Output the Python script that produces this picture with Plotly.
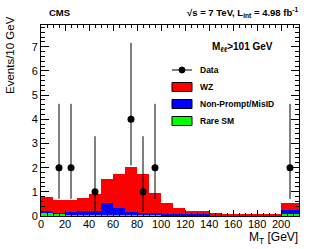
import plotly.graph_objects as go

# ---- data ----
bin_lo = [0, 10, 20, 30, 40, 50, 60, 70, 80, 90, 100, 110, 120, 130, 140, 150, 160, 170, 180, 190, 200]
bin_hi = [10, 20, 30, 40, 50, 60, 70, 80, 90, 100, 110, 120, 130, 140, 150, 160, 170, 180, 190, 200, 215]
rare_sm = [0.13, 0.09, 0.05, 0.05, 0.05, 0.05, 0.05, 0.05, 0.05, 0.05, 0.04, 0.04, 0.03, 0.03, 0.02, 0.02, 0.02, 0.02, 0.02, 0.02, 0.07]
nonprompt = [0.09, 0.05, 0.1, 0.14, 0.17, 0.5, 0.27, 0.1, 0.08, 0.07, 0.06, 0.05, 0.04, 0.04, 0.02, 0.02, 0.01, 0.01, 0.01, 0.01, 0.18]
wz = [0.56, 0.51, 0.52, 0.54, 0.68, 0.97, 1.41, 1.88, 1.59, 0.83, 0.42, 0.23, 0.14, 0.14, 0.07, 0.06, 0.04, 0.04, 0.03, 0.03, 0.30]

data_x = [15, 25, 45, 75, 85, 95, 207.5]
data_y = [2, 2, 1, 4, 1, 2, 2]
data_err_up = [2.64, 2.64, 2.30, 3.16, 2.30, 2.64, 2.64]
data_err_dn = [1.29, 1.29, 0.83, 1.91, 0.83, 1.29, 1.29]

x_ticks = [0, 20, 40, 60, 80, 100, 120, 140, 160, 180, 200]
x_tick_labels = ["0", "20", "40", "60", "80", "100", "120", "140", "160", "180", "200"]
y_ticks = [0, 1, 2, 3, 4, 5, 6, 7]

centers = [(a + b) / 2 for a, b in zip(bin_lo, bin_hi)]
widths = [b - a for a, b in zip(bin_lo, bin_hi)]

FONT = "Liberation Sans, Arial, Helvetica, sans-serif"

fig = go.Figure()
for vals, col, name in [(rare_sm, "#00ff00", "Rare SM"),
                        (nonprompt, "#0000ff", "Non-Prompt/MisID"),
                        (wz, "#ff0000", "WZ")]:
    fig.add_trace(go.Bar(x=centers, y=vals, width=widths, marker=dict(color=col, line=dict(width=0)),
                         name=name, showlegend=False))

fig.add_trace(go.Scatter(
    x=data_x, y=data_y, mode="markers", name="Data", showlegend=False,
    marker=dict(color="black", size=7),
    error_y=dict(type="data", symmetric=False, array=data_err_up, arrayminus=data_err_dn,
                 color="black", thickness=1, width=0)))

# plot area in pixels
L, R, T, B = 41, 299, 25, 216
W, H = 315, 249


def px(x):
    return (x - L) / (R - L)


def py(y):
    return (B - y) / (B - T)


shapes = []
annotations = []

# legend (manual, ROOT style)
leg_rows = [(70, None, "Data"), (87, "#ff0000", "WZ"), (104, "#0000ff", "Non-Prompt/MisID"),
            (121, "#00ff00", "Rare SM")]
for yy, col, label in leg_rows:
    if col is None:
        shapes.append(dict(type="line", xref="paper", yref="paper", x0=px(172), x1=px(192),
                           y0=py(yy), y1=py(yy), line=dict(color="black", width=1)))
        shapes.append(dict(type="circle", xref="paper", yref="paper", x0=px(179), x1=px(185),
                           y0=py(yy - 3), y1=py(yy + 3), fillcolor="black", line=dict(color="black", width=1)))
    else:
        shapes.append(dict(type="rect", xref="paper", yref="paper", x0=px(172), x1=px(192),
                           y0=py(yy - 4.5), y1=py(yy + 4.5), fillcolor=col, line=dict(color="black", width=1)))
    annotations.append(dict(xref="paper", yref="paper", x=px(198), y=py(yy), text="<b>" + label + "</b>",
                            showarrow=False, xanchor="left", yanchor="middle",
                            font=dict(family=FONT, size=8.5, color="black")))

# x tick labels placed through the x axis scale
for tv, tl in zip(x_ticks, x_tick_labels):
    annotations.append(dict(xref="x", yref="paper", x=tv, y=py(224), text=tl, showarrow=False,
                            xanchor="center", yanchor="middle",
                            font=dict(family=FONT, size=11, color="black")))

annotations += [
    dict(xref="paper", yref="paper", x=px(47), y=py(13), text="<b>CMS</b>", showarrow=False,
         xanchor="left", yanchor="middle", font=dict(family=FONT, size=9.5, color="black")),
    dict(xref="paper", yref="paper", x=px(300), y=py(13),
         text="<b>\u221As = 7 TeV, L<sub>int</sub> = 4.98 fb<sup>-1</sup></b>", showarrow=False,
         xanchor="right", yanchor="middle", font=dict(family=FONT, size=9.5, color="black")),
    dict(xref="paper", yref="paper", x=px(275), y=py(47),
         text="<b>M<sub>\u2113\u2113</sub>>101 GeV</b>", showarrow=False,
         xanchor="right", yanchor="middle", font=dict(family=FONT, size=10, color="black")),
    dict(xref="paper", yref="paper", x=px(10), y=py(55), text="Events/10 GeV", textangle=-90,
         showarrow=False, xanchor="center", yanchor="middle", font=dict(family=FONT, size=11.5, color="black")),
    dict(xref="paper", yref="paper", x=px(300), y=py(238), text="M<sub>T</sub> [GeV]",
         showarrow=False, xanchor="right", yanchor="middle", font=dict(family=FONT, size=12, color="black")),
]

fig.update_layout(
    width=W, height=H, margin=dict(l=L, r=W - R, t=T, b=H - B),
    paper_bgcolor="white", plot_bgcolor="white", barmode="stack", bargap=0,
    shapes=shapes, annotations=annotations, showlegend=False,
    font=dict(family=FONT, size=11, color="black"),
)
fig.update_xaxes(range=[0, 215], tickvals=x_ticks, ticks="inside", ticklen=6, tickcolor="black",
                 showline=True, linecolor="black", linewidth=1, mirror="allticks", showgrid=False,
                 zeroline=False, showticklabels=False,
                 minor=dict(dtick=5, ticks="inside", ticklen=3, tickcolor="black", showgrid=False))
fig.update_yaxes(range=[0, 7.9], tickvals=y_ticks, ticks="inside", ticklen=8, tickcolor="black",
                 showline=True, linecolor="black", linewidth=1, mirror="allticks", showgrid=False,
                 zeroline=False, tickfont=dict(size=11), ticklabeloverflow="allow",
                 minor=dict(dtick=0.2, ticks="inside", ticklen=4, tickcolor="black", showgrid=False))

fig.write_html("out.html", config={"displayModeBar": False},
               post_script="document.body.style.margin='0';document.body.style.overflow='hidden';")
